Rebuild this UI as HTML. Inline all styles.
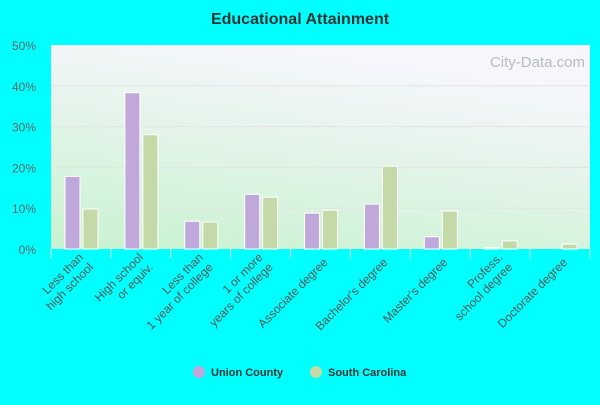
<!DOCTYPE html>
<html><head><meta charset="utf-8"><style>
body{margin:0;background:#00ffff;font-family:"Liberation Sans",sans-serif}
</style></head><body>
<svg width="600" height="400" xmlns="http://www.w3.org/2000/svg">
<defs>
<linearGradient id="bg" x1="0" y1="1" x2="0.35" y2="0">
<stop offset="0" stop-color="#c8f2cf"/><stop offset="1" stop-color="#f6f6fc"/>
</linearGradient>
</defs>
<text x="300" y="24" text-anchor="middle" font-size="16" font-weight="bold" fill="#333">Educational Attainment</text>
<rect x="51" y="45" width="539" height="204" fill="url(#bg)"/>
<text x="585" y="67" text-anchor="end" font-size="15" fill="#b8bcc0">City-Data.com</text>
<g id="grid"></g><g id="bars"></g><g id="labels"></g>
<g>
<circle cx="199" cy="372" r="6" fill="#c0a8da"/>
<text x="211" y="376" font-size="11" font-weight="bold" fill="#333">Union County</text>
<circle cx="316" cy="372" r="6" fill="#c4d9a8"/>
<text x="328" y="376" font-size="11" font-weight="bold" fill="#333">South Carolina</text>
</g>
</svg>
<script>
const categories=[["Less than","high school"],["High school","or equiv."],["Less than","1 year of college"],["1 or more","years of college"],["Associate degree"],["Bachelor's degree"],["Master's degree"],["Profess.","school degree"],["Doctorate degree"]];
const unionValues=[17.8,38.3,6.8,13.4,8.8,11.0,3.0,0.3,0];
const scValues=[9.8,28.0,6.6,12.7,9.5,20.3,9.3,2.0,1.2];
const yTicks=[0,10,20,30,40,50];
const NS="http://www.w3.org/2000/svg";
const x0=51,x1=590,yTop=45,yBot=249,yMax=50;
const bw=(x1-x0)/categories.length;
const y=v=>yBot-(v/yMax)*(yBot-yTop);
const xc=i=>x0+bw*i;
function mk(t,a,p){const e=document.createElementNS(NS,t);for(const k in a)e.setAttribute(k,a[k]);p.appendChild(e);return e;}
const grid=document.getElementById('grid'),bars=document.getElementById('bars'),labels=document.getElementById('labels');
yTicks.forEach(t=>{
 if(t>0&&t<yMax){const l=mk('line',{x1:x0,x2:x1,y1:y(t),y2:y(t),stroke:'#e4e4e4','stroke-width':1},grid);
 
 }
 const tx=mk('text',{x:36,y:y(t)+5,'text-anchor':'end','font-size':12,fill:'#666'},grid);
 tx.textContent=t+'%';
 
 
});
for(let i=0;i<=categories.length;i++){const l=mk('line',{x1:xc(i),x2:xc(i),y1:yBot,y2:yBot+9,stroke:'#ddd'},grid);
 
 }
categories.forEach((c,i)=>{
 const bx=xc(i)+14;
 const r1=mk('rect',{x:bx,y:y(unionValues[i]),width:15,height:yBot-y(unionValues[i]),fill:'#c0a8da',stroke:'#fff','stroke-width':1},bars);
 
 
 const r2=mk('rect',{x:bx+18,y:y(scValues[i]),width:15,height:yBot-y(scValues[i]),fill:'#c4d9a8',stroke:'#fff','stroke-width':1},bars);
 
 
 const cx=xc(i)+bw/2+8,cy=yBot+14;
 const t=mk('text',{transform:`translate(${cx},${cy}) rotate(-45)`,'text-anchor':'end','font-size':12,fill:'#555'},labels);
 
 
 c.forEach((ln,j)=>{const s=mk('tspan',{x:0,dy:j==0?(c.length>1?-7:0):14},t);s.textContent=ln;});
});
</script>
</body></html>
